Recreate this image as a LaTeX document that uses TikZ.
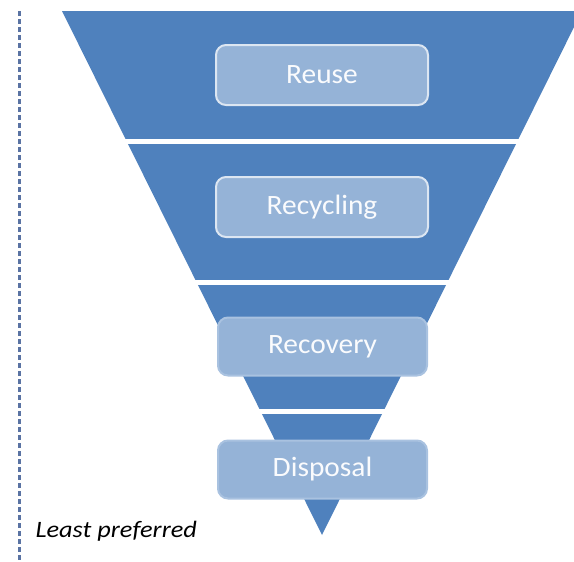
\documentclass[tikz,border=0pt]{standalone}
\usepackage{fontspec}
\setmainfont{Carlito}
\definecolor{funnel}{HTML}{4F81BD}
\definecolor{stagefill}{HTML}{95B3D7}
\definecolor{stageline}{HTML}{DCE6F2}
\definecolor{softline}{HTML}{A9C2E0}
\definecolor{dashline}{HTML}{5A73A3}
\newcommand{\stagetext}[1]{\scalebox{1.05}[1]{#1}}
\tikzset{
  stage/.style={draw=stageline, line width=2pt, fill=stagefill, rounded corners=10pt,
    minimum width=212pt, minimum height=60pt, text=white!95!stagefill,
    font=\fontsize{28}{32}\selectfont},
  lowstage/.style={stage, draw=softline, minimum width=209pt, minimum height=58pt},
  gap/.style={white, line width=5pt}
}

\begin{document}
\begin{tikzpicture}[x=1pt,y=-1pt]
\clip (0,0) rectangle (574,562);
\coordinate (a) at (322,535);
\coordinate (b) at (62,11);
\coordinate (c) at (582,11);
\coordinate (top) at (19.5,11);
\coordinate (bottom) at (19.5,562);

\draw[dashline, line width=2.5pt, dash pattern=on 5pt off 3pt] (top) -- (bottom);
\fill[funnel] (a) -- (b) -- (c) -- cycle;

\draw[gap] (110,141) -- (535,141);
\draw[gap] (185,282) -- (460,282);
\draw[gap] (245,411.5) -- (400,411.5);

\node[stage] (reuse) at (322,75) {\stagetext{Reuse}};
\node[stage] (recycling) at (322,207) {\stagetext{Recycling}};
\node[lowstage] (recovery) at (322.5,346.5) {\stagetext{Recovery}};
\node[lowstage] (disposal) at (322.5,469.5) {\stagetext{Disposal}};

\node[anchor=base west, font=\itshape\fontsize{23.5}{28}\selectfont] (least) at (32,537) {\scalebox{1.12}[1]{Least preferred}};
\end{tikzpicture}
\end{document}
